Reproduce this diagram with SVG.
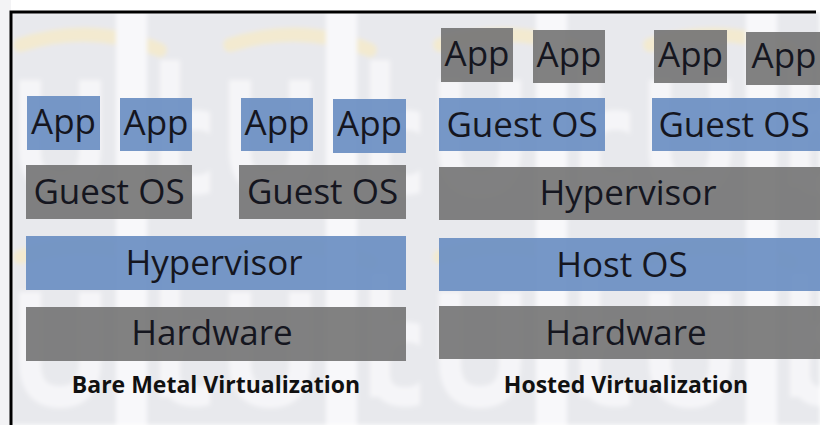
<svg xmlns="http://www.w3.org/2000/svg" width="820" height="425" viewBox="0 0 820 425">
  <style>
    .blue { fill: #6a8ec2; fill-opacity: 0.92; }
    .grey { fill: #747474; fill-opacity: 0.91; }
    .lbl { font-family: "Open Sans", "Liberation Sans", sans-serif; font-size: 35px; fill: #15161f; text-anchor: middle; }
    .cap { font-family: "Open Sans", "Liberation Sans", sans-serif; font-size: 23px; font-weight: bold; fill: #111; text-anchor: middle; }
  </style>
  <defs>
    <!-- faint repeating logo watermark behind the stacks -->
    <pattern id="wm" x="0" y="0" width="210" height="212" patternUnits="userSpaceOnUse">
      <rect width="210" height="212" fill="#e8e9ed"/>
      <path d="M20,45 Q90,22 160,50" fill="none" stroke="#f3ead0" stroke-width="14" stroke-linecap="round"/>
      <rect x="116" y="0" width="31" height="212" fill="#f8f8fa"/>
      <path d="M30,80 V150 Q30,185 60,185 Q90,185 90,150 V80" fill="none" stroke="#f5f5f8" stroke-width="22"/>
      <path d="M170,60 V185 M170,150 Q170,120 195,120 Q225,120 225,150 Q225,185 195,185 Q170,185 170,160" fill="none" stroke="#f5f5f8" stroke-width="20"/>
    </pattern>
    <filter id="soft" x="0" y="0" width="1" height="1">
      <feGaussianBlur stdDeviation="2"/>
    </filter>
  </defs>

  <rect width="820" height="425" fill="#ffffff"/>
  <rect x="11" y="12" width="809" height="413" fill="url(#wm)" filter="url(#soft)"/>
  <rect x="0" y="0" width="11" height="425" fill="#f3f3f5"/>

  <!-- frame -->
  <g id="frame" fill="none" stroke="#000" stroke-width="3">
    <path d="M11,425 V12 H816"/>
  </g>

  <!-- Bare metal stack -->
  <g id="bm-app1"><rect class="blue" x="27" y="96" width="73" height="54"/><text class="lbl" x="63.5" y="134">App</text></g>
  <g id="bm-app2"><rect class="blue" x="120" y="98" width="72" height="53"/><text class="lbl" x="156" y="135">App</text></g>
  <g id="bm-app3"><rect class="blue" x="241" y="98" width="72" height="53"/><text class="lbl" x="277" y="135">App</text></g>
  <g id="bm-app4"><rect class="blue" x="333" y="99" width="73" height="54"/><text class="lbl" x="369.5" y="136">App</text></g>
  <g id="bm-guest1"><rect class="grey" x="26" y="165" width="166" height="54"/><text class="lbl" x="109" y="204">Guest OS</text></g>
  <g id="bm-guest2"><rect class="grey" x="239" y="165" width="167" height="54"/><text class="lbl" x="322.5" y="204">Guest OS</text></g>
  <g id="bm-hypervisor"><rect class="blue" x="26" y="236" width="380" height="54"/><text class="lbl" x="214" y="275">Hypervisor</text></g>
  <g id="bm-hardware"><rect class="grey" x="26" y="307" width="380" height="54"/><text class="lbl" x="212" y="345">Hardware</text></g>
  <text id="bm-caption" class="cap" x="216" y="393">Bare Metal Virtualization</text>

  <!-- Hosted stack -->
  <g id="h-app1"><rect class="grey" x="441" y="28" width="72" height="54"/><text class="lbl" x="477" y="66">App</text></g>
  <g id="h-app2"><rect class="grey" x="533" y="30" width="72" height="53"/><text class="lbl" x="569" y="67">App</text></g>
  <g id="h-app3"><rect class="grey" x="654" y="30" width="73" height="53"/><text class="lbl" x="690.5" y="67">App</text></g>
  <g id="h-app4"><rect class="grey" x="746" y="32" width="74" height="53"/><text class="lbl" x="784" y="68">App</text></g>
  <g id="h-guest1"><rect class="blue" x="439" y="98" width="166" height="53"/><text class="lbl" x="522" y="137">Guest OS</text></g>
  <g id="h-guest2"><rect class="blue" x="652" y="98" width="168" height="53"/><text class="lbl" x="734" y="137">Guest OS</text></g>
  <g id="h-hypervisor"><rect class="grey" x="439" y="167" width="381" height="53"/><text class="lbl" x="628" y="205">Hypervisor</text></g>
  <g id="h-hostos"><rect class="blue" x="439" y="238" width="381" height="53"/><text class="lbl" x="622" y="277">Host OS</text></g>
  <g id="h-hardware"><rect class="grey" x="439" y="306" width="381" height="53"/><text class="lbl" x="626" y="345">Hardware</text></g>
  <text id="h-caption" class="cap" x="626" y="393">Hosted Virtualization</text>
</svg>
